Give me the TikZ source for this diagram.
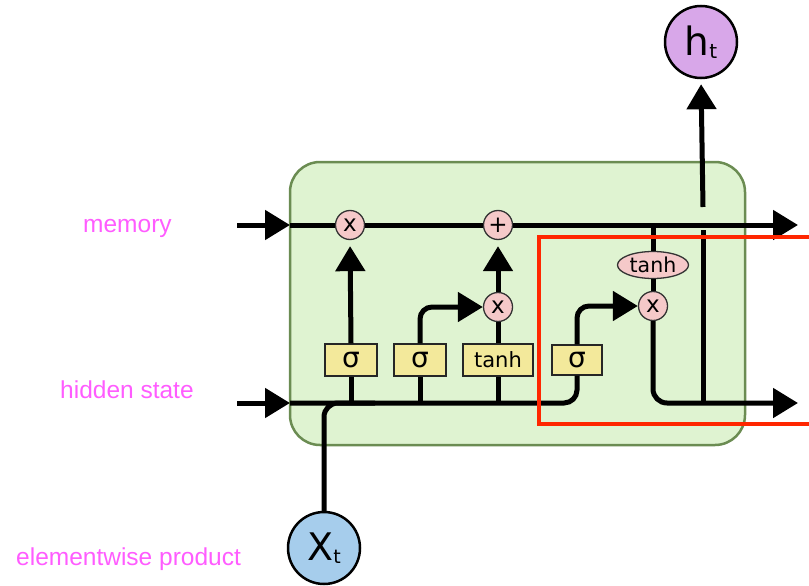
\documentclass[tikz,border=0pt]{standalone}
\usepackage{fontspec}
\setmainfont{DejaVu Sans}
\newfontfamily\lblfont{Liberation Sans}
\usetikzlibrary{arrows.meta,shapes.geometric}
\definecolor{boxfill}{HTML}{DFF3D1}
\definecolor{boxline}{HTML}{6B8C52}
\definecolor{opfill}{HTML}{F5C9C9}
\definecolor{gatefill}{HTML}{F3E99B}
\definecolor{hfill}{HTML}{D8A7E9}
\definecolor{xfill}{HTML}{A6CDEC}
\definecolor{lblcol}{HTML}{FF5CFF}
\definecolor{redbox}{HTML}{FF2600}
\tikzset{
  wire/.style={line width=5pt, black},
  arr/.style={wire, -{Triangle[length=25pt,width=29pt]}},
  opnode/.style={circle, draw=black!80, line width=1.3pt, fill=opfill, minimum size=29pt, inner sep=0pt, font=\fontsize{23}{23}\selectfont},
  gatenode/.style={rectangle, draw=black!85, line width=1.3pt, fill=gatefill, minimum height=32pt, inner sep=0pt, font=\fontsize{28}{28}\selectfont},
  ionode/.style={circle, draw=black, line width=2.5pt, minimum size=72pt, inner sep=0pt},
  lbl/.style={text=lblcol, anchor=base west, inner sep=0pt, font=\lblfont\fontsize{24.5}{24.5}\selectfont},
}
\begin{document}
\begin{tikzpicture}[x=1pt,y=-1pt]
\useasboundingbox (0,0) rectangle (809,586);
% cell
\node[draw=boxline, line width=2.5pt, fill=boxfill, rounded corners=30pt, minimum width=455pt, minimum height=283pt, inner sep=0pt] (cell) at (517.5,303.5) {};
% coordinates
\coordinate (memin) at (237,225);
\coordinate (memleft) at (290,225);
\coordinate (memout) at (798,225);
\coordinate (hidin) at (237,403);
\coordinate (hidleft) at (290,403);
\coordinate (hidout) at (798,403);
\coordinate (tap) at (653,225);
\coordinate (hbot) at (703,403);
\coordinate (hmid) at (703,230);
\coordinate (htop) at (703,207);
\coordinate (b1) at (351,403);
\coordinate (b2) at (420,403);
\coordinate (b3) at (498,403);
\coordinate (b4) at (577,403);
\coordinate (xjoin) at (350,403);
% operators
\node[opnode] (fx) at (350,225) {x};
\node[opnode] (plus) at (498,225) {+};
\node[opnode] (ix) at (498,307) {x};
\node[opnode] (ox) at (653,306) {x};
\node[ellipse, draw=black!80, line width=1.3pt, fill=opfill, minimum width=71pt, minimum height=27pt, inner sep=0pt, font=\fontsize{20.5}{20.5}\selectfont] (tanhE) at (653,265) {tanh};
% gates
\node[gatenode, minimum width=52pt] (s1) at (351,360) {σ};
\node[gatenode, minimum width=52pt] (s2) at (420,360) {σ};
\node[gatenode, minimum width=70pt, font=\fontsize{21}{21}\selectfont] (tb) at (498,360) {tanh};
\node[gatenode, minimum width=50pt, minimum height=30pt] (s4) at (577,360) {σ};
% io
\node[ionode, fill=hfill] (ht) at (701,42) {\fontsize{39}{39}\selectfont h\raisebox{-3pt}{\fontsize{20}{20}\selectfont t}};
\node[ionode, fill=xfill] (xt) at (324,548) {\fontsize{38}{38}\selectfont X\raisebox{-3pt}{\fontsize{19}{19}\selectfont t}};
% memory line
\draw[arr] (memin) -- (memleft);
\draw[wire] (memleft) -- (fx.west);
\draw[wire] (fx.east) -- (plus.west);
\draw[arr] (plus.east) -- (memout);
% hidden line
\draw[arr] (hidin) -- (hidleft);
\draw[wire, rounded corners=13pt] (hidleft) -- (b4) -- (s4.south);
\draw[wire, rounded corners=14pt] (xt.north) |- ([xshift=25pt]xjoin);
\draw[wire] (b1) -- (s1.south);
\draw[wire] (b2) -- (s2.south);
\draw[wire] (b3) -- (tb.south);
% gate outputs
\draw[arr, shorten >=6pt] (s1.north) -- (fx.south);
\draw[arr, rounded corners=12pt] (s2.north) |- (ix.west);
\draw[wire] (tb.north) -- (ix.south);
\draw[arr, shorten >=6pt] (ix.north) -- (plus.south);
\draw[arr, rounded corners=12pt] (s4.north) |- (ox.west);
% output path
\draw[wire] (tap) -- (tanhE.north);
\draw[wire] (tanhE.south) -- (ox.north);
\draw[arr, rounded corners=14pt] (ox.south) |- (hidout);
\draw[wire] (hbot) -- (hmid);
\draw[arr, shorten >=5pt] (htop) -- (ht.south);
% labels
\node[lbl] (lmem) at (83,232) {memory};
\node[lbl] (lhid) at (60,398) {hidden state};
\node[lbl] (lel) at (16,565) {elementwise product};
% red highlight
\draw[redbox, line width=4pt] (820,237) -- (539,237) -- (539,424) -- (820,424);
\end{tikzpicture}
\end{document}
